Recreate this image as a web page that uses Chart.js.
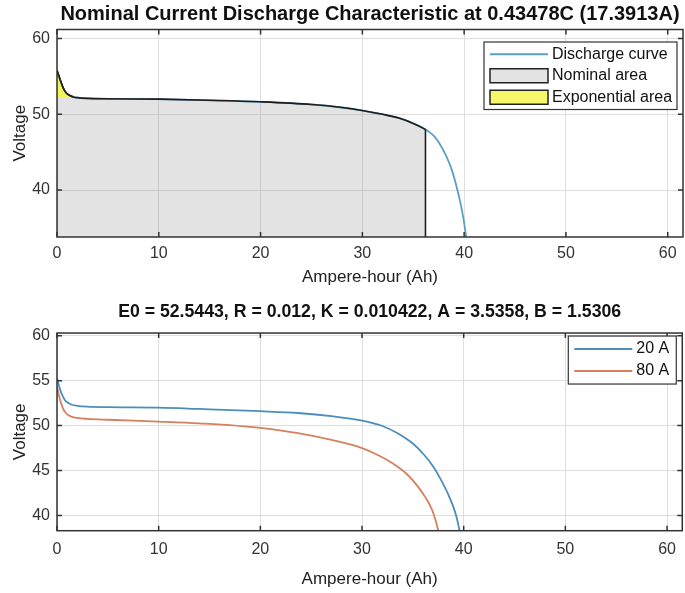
<!DOCTYPE html>
<html>
<head>
<meta charset="utf-8">
<script src="https://cdn.jsdelivr.net/npm/chart.js@4.4.1/dist/chart.umd.min.js"></script>
<style>
  body { margin: 0; background: #fff; }
  .panel { position: absolute; left: 0; width: 685px; }
</style>
</head>
<body>
<div class="panel" style="top:0;height:296px"><canvas id="nominalChart"></canvas></div>
<div class="panel" style="top:296px;height:297px"><canvas id="currentChart"></canvas></div>
<script>
// --- data ---
const ahTicks = [0, 10, 20, 30, 40, 50, 60];
const topVoltTicks = [40, 50, 60];
const bottomVoltTicks = [40, 45, 50, 55, 60];

// nominal discharge curve (17.3913 A)
const curveAh   = [0, 0.2, 0.4, 0.6, 0.8, 1.0, 1.3, 1.6, 2, 3, 5, 10, 15, 20, 25, 28, 30, 32, 33.6, 35, 36.2, 37, 37.5, 38.2, 38.8, 39.5, 39.9, 40.2];
const curveVolt = [55.8, 55.0, 54.2, 53.5, 53.0, 52.7, 52.45, 52.3, 52.2, 52.1, 52.05, 52.0, 51.85, 51.65, 51.3, 50.9, 50.5, 50.0, 49.5, 48.8, 48.0, 47.2, 46.3, 44.6, 42.6, 39.1, 36.5, 33.8];
const expEndAh = 1.6;        // end of exponential zone
const expBaseVolt = 52.3;    // voltage at end of exponential zone
const nominalEndAh = 36.2;   // end of nominal zone
const topMinVolt = 33.8;

// discharge at two currents
const lowAh    = [0, 0.2, 0.4, 0.6, 0.8, 1.0, 1.4, 2, 3, 5, 10, 14, 20, 23.7, 27, 30, 32, 33.5, 35, 36.1, 37, 37.7, 38.5, 39, 39.3, 39.6];
const lowVolt  = [55.3, 54.4, 53.7, 53.2, 52.8, 52.6, 52.35, 52.2, 52.1, 52.05, 52.0, 51.85, 51.6, 51.4, 51.05, 50.55, 49.95, 49.15, 48.0, 46.75, 45.45, 44.1, 42.3, 40.9, 39.8, 38.3];
const highAh   = [0, 0.2, 0.4, 0.6, 0.8, 1.0, 1.4, 2, 3, 5, 10, 14, 20, 23.7, 27, 30, 31.5, 33, 34.5, 35.5, 36.3, 36.9, 37.2, 37.5];
const highVolt = [54.3, 53.3, 52.5, 51.9, 51.5, 51.25, 51.0, 50.85, 50.75, 50.65, 50.45, 50.25, 49.75, 49.15, 48.4, 47.5, 46.75, 45.8, 44.5, 43.2, 41.9, 40.6, 39.6, 38.3];

const pts = (xs, ys) => xs.map((x, i) => ({ x, y: ys[i] }));

const curvePts = pts(curveAh, curveVolt);
const expPts = curvePts.filter(p => p.x <= expEndAh);
const nominalPts = curvePts.filter(p => p.x <= nominalEndAh);
const nominalEndVolt = curveVolt[curveAh.indexOf(nominalEndAh)];
const nominalEdge = [{ x: nominalEndAh, y: nominalEndVolt }, { x: nominalEndAh, y: topMinVolt }];

Chart.defaults.font.family = '"Liberation Sans", Arial, sans-serif';
Chart.defaults.color = '#262626';

// box round the axes with inward ticks, like MATLAB
const axesBox = {
    id: 'axesBox',
    afterDatasetsDraw(chart) {
        const { ctx, chartArea: a, scales: { x, y } } = chart;
        ctx.save();
        ctx.strokeStyle = '#333';
        ctx.lineWidth = 1.5;
        ctx.strokeRect(a.left, a.top, a.right - a.left, a.bottom - a.top);
        ctx.beginPath();
        x.ticks.forEach(t => {
            const px = x.getPixelForValue(t.value);
            ctx.moveTo(px, a.bottom); ctx.lineTo(px, a.bottom - 5);
            ctx.moveTo(px, a.top); ctx.lineTo(px, a.top + 5);
        });
        y.ticks.forEach(t => {
            const py = y.getPixelForValue(t.value);
            ctx.moveTo(a.left, py); ctx.lineTo(a.left + 5, py);
            ctx.moveTo(a.right, py); ctx.lineTo(a.right - 5, py);
        });
        ctx.stroke();
        ctx.restore();
    }
};

// legend drawn inside the plot, top right, with a frame
const boxLegend = {
    id: 'boxLegend',
    afterDatasetsDraw(chart, args, opts) {
        const { ctx, chartArea: a } = chart;
        const ds = chart.data.datasets;
        const h = opts.items.length * opts.row + opts.pad * 2;
        const x0 = a.right - opts.right - opts.width;
        const y0 = a.top + opts.top;
        ctx.save();
        ctx.fillStyle = '#fff';
        ctx.fillRect(x0, y0, opts.width, h);
        ctx.strokeStyle = '#333';
        ctx.lineWidth = 1.2;
        ctx.strokeRect(x0, y0, opts.width, h);
        ctx.font = '16px "Liberation Sans", Arial, sans-serif';
        ctx.textBaseline = 'middle';
        opts.items.forEach((it, i) => {
            const d = ds[it.index];
            const cy = y0 + opts.pad + opts.row * (i + 0.5);
            const sx = x0 + opts.symX;
            if (it.kind === 'line') {
                ctx.strokeStyle = d.borderColor;
                ctx.lineWidth = 2;
                ctx.beginPath();
                ctx.moveTo(sx, cy); ctx.lineTo(sx + opts.symW, cy);
                ctx.stroke();
            } else {
                ctx.fillStyle = it.swatch;
                ctx.fillRect(sx, cy - 7, opts.symW, 14);
                ctx.strokeStyle = '#222';
                ctx.lineWidth = 1.5;
                ctx.strokeRect(sx, cy - 7, opts.symW, 14);
            }
            ctx.fillStyle = '#111';
            ctx.fillText(d.label, sx + opts.symW + 4, cy);
        });
        ctx.restore();
    }
};

function xScale(tickPad, titlePad, height) {
    return {
        type: 'linear', min: 0, max: 61.5,
        afterBuildTicks: s => { s.ticks = ahTicks.map(v => ({ value: v })); },
        afterFit: s => { s.height = height; },
        grid: { color: '#dedede', drawTicks: false },
        border: { display: false },
        ticks: { padding: tickPad, font: { size: 16 }, color: '#333' },
        title: { display: true, text: 'Ampere-hour (Ah)', font: { size: 17 }, color: '#222', padding: { top: 0, bottom: titlePad } }
    };
}

function yScale(min, max, ticks) {
    return {
        min, max,
        afterBuildTicks: s => { s.ticks = ticks.map(v => ({ value: v })); },
        afterFit: s => { s.width = 57; },
        grid: { color: '#dedede', drawTicks: false },
        border: { display: false },
        ticks: { padding: 7, font: { size: 16 }, color: '#333' },
        title: { display: true, text: 'Voltage', font: { size: 17 }, color: '#222', padding: { top: 10, bottom: 0 } }
    };
}

const smooth = { pointRadius: 0, cubicInterpolationMode: 'monotone' };

new Chart(document.getElementById('nominalChart'), {
    type: 'line',
    data: {
        datasets: [{
            label: 'Discharge curve',
            data: curvePts,
            borderColor: '#5a9fc4',
            borderWidth: 1.8,
            fill: false,
            order: 4,
            ...smooth
        }, {
            label: 'Nominal area',
            data: nominalPts,
            borderColor: '#1e1e1e',
            borderWidth: 1.6,
            backgroundColor: 'rgba(128,128,128,0.22)',
            fill: 'start',
            order: 3,
            ...smooth
        }, {
            label: 'Exponential area',
            data: expPts,
            borderColor: '#1e1e1e',
            borderWidth: 1.6,
            backgroundColor: 'rgba(255,255,0,0.6)',
            fill: { value: expBaseVolt },
            order: 1,
            ...smooth
        }, {
            label: 'Nominal edge',
            data: nominalEdge,
            borderColor: '#1e1e1e',
            borderWidth: 1.6,
            fill: false,
            order: 2,
            pointRadius: 0
        }]
    },
    options: {
        responsive: true,
        maintainAspectRatio: false,
        animation: false,
        layout: { padding: { left: 0, right: 2, top: 0, bottom: 0 } },
        scales: {
            x: xScale(7, 8, 59),
            y: yScale(topMinVolt, 61.2, topVoltTicks)
        },
        plugins: {
            legend: { display: false },
            tooltip: { enabled: false },
            title: {
                display: true,
                fullSize: false,
                text: 'Nominal Current Discharge Characteristic at 0.43478C (17.3913A)',
                font: { size: 20, weight: 'bold' },
                color: '#111',
                padding: { top: 2, bottom: 3.5 }
            },
            boxLegend: {
                right: 6, top: 12.5, width: 193, row: 21.5, pad: 1.5, symX: 6, symW: 58,
                items: [
                    { index: 0, kind: 'line' },
                    { index: 1, kind: 'box', swatch: '#e3e3e3' },
                    { index: 2, kind: 'box', swatch: '#f7f76a' }
                ]
            }
        }
    },
    plugins: [axesBox, boxLegend]
});

new Chart(document.getElementById('currentChart'), {
    type: 'line',
    data: {
        datasets: [{
            label: '20 A',
            data: pts(lowAh, lowVolt),
            borderColor: '#4a8fba',
            borderWidth: 1.8,
            fill: false,
            ...smooth
        }, {
            label: '80 A',
            data: pts(highAh, highVolt),
            borderColor: '#d5805e',
            borderWidth: 1.8,
            fill: false,
            ...smooth
        }]
    },
    options: {
        responsive: true,
        maintainAspectRatio: false,
        animation: false,
        layout: { padding: { left: 0, right: 2, top: 0, bottom: 0 } },
        scales: {
            x: xScale(9, 3, 62.3),
            y: yScale(38.3, 60.3, bottomVoltTicks)
        },
        plugins: {
            legend: { display: false },
            tooltip: { enabled: false },
            title: {
                display: true,
                fullSize: false,
                text: 'E0 = 52.5443, R = 0.012, K = 0.010422, A = 3.5358, B = 1.5306',
                font: { size: 17.7, weight: 'bold' },
                color: '#111',
                padding: { top: 5, bottom: 10.8 }
            },
            boxLegend: {
                right: 6, top: 3, width: 108, row: 22, pad: 2, symX: 6, symW: 58,
                items: [
                    { index: 0, kind: 'line' },
                    { index: 1, kind: 'line' }
                ]
            }
        }
    },
    plugins: [axesBox, boxLegend]
});
</script>
</body>
</html>
